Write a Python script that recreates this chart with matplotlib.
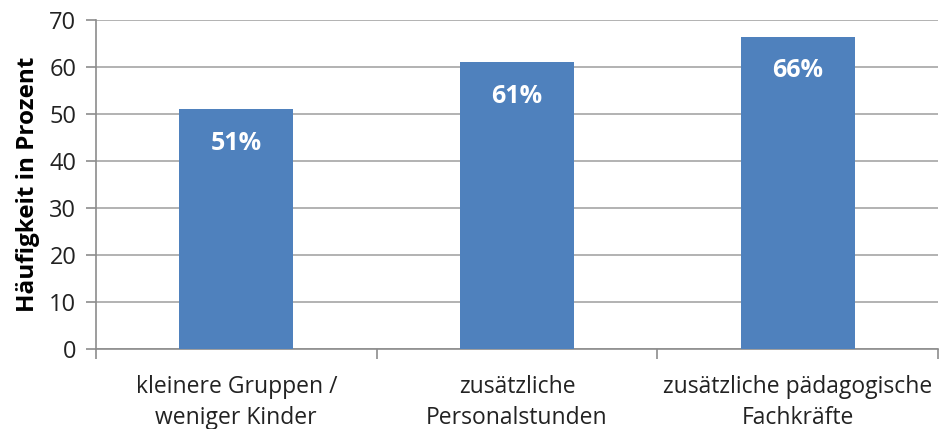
import matplotlib
matplotlib.use("Agg")
import matplotlib.pyplot as plt
from matplotlib.ticker import FixedLocator

categories = ["kleinere Gruppen /\nweniger Kinder", "zusätzliche\nPersonalstunden", "zusätzliche pädagogische\nFachkräfte"]
values = [51, 61, 66.4]
value_labels = ["51%", "61%", "66%"]
yticks = [0, 10, 20, 30, 40, 50, 60, 70]

plt.rcParams['font.family'] = ['Open Sans', 'DejaVu Sans']

fig = plt.figure(figsize=(9.4, 4.29), dpi=100)
ax = fig.add_axes([0.102, 0.1865, 0.896, 0.767])

x = list(range(len(categories)))
bars = ax.bar(x, values, width=0.405, color="#4F81BD", zorder=3)
for b, lab in zip(bars, value_labels):
    ax.text(b.get_x() + b.get_width() / 2, b.get_height() - 7.2, lab,
            ha="center", va="center", color="white", fontsize=18, fontweight="bold", zorder=4)

ax.set_xlim(-0.5, len(categories) - 0.5)
ax.set_ylim(0, 70)
ax.set_yticks(yticks)
ax.yaxis.grid(True, color="#A6A6A6", linewidth=1.2, zorder=0)
ax.set_axisbelow(True)

ax.set_xticks(x)
ax.set_xticklabels(categories, fontsize=16.5, color="#222222", linespacing=1.35)
ax.tick_params(axis="x", length=0, pad=19)
ax.xaxis.set_minor_locator(FixedLocator([i - 0.5 for i in range(len(categories) + 1)]))
ax.tick_params(axis="x", which="minor", length=7, color="#8C8C8C", width=1.2)
ax.tick_params(axis="y", length=7, color="#8C8C8C", width=1.2, labelsize=17, labelcolor="#222222", pad=7)

for s in ["top", "right"]:
    ax.spines[s].set_visible(False)
for s in ["left", "bottom"]:
    ax.spines[s].set_color("#8C8C8C")
    ax.spines[s].set_linewidth(1.2)

ax.set_ylabel("Häufigkeit in Prozent", fontsize=17.5, fontweight="bold", labelpad=7)

fig.savefig("out.png", dpi=100)
